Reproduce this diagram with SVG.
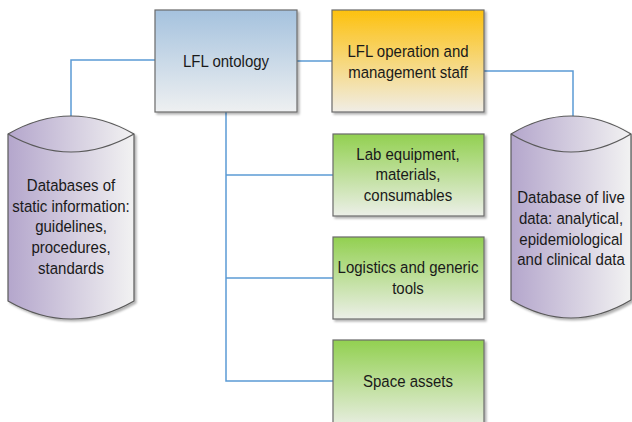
<svg xmlns="http://www.w3.org/2000/svg" width="632" height="422" viewBox="0 0 632 422">
<defs>
<linearGradient id="gBlue" x1="0" y1="0" x2="0" y2="1"><stop offset="0" stop-color="#a5c2de"/><stop offset="1" stop-color="#eef0f1"/></linearGradient>
<linearGradient id="gOrange" x1="0" y1="0" x2="0" y2="1"><stop offset="0" stop-color="#fdc10e"/><stop offset="1" stop-color="#f0ede6"/></linearGradient>
<linearGradient id="gGreen" x1="0" y1="0" x2="0" y2="1"><stop offset="0" stop-color="#92d050"/><stop offset="1" stop-color="#ecefe8"/></linearGradient>
<linearGradient id="gCyl" x1="0" y1="0" x2="1" y2="0"><stop offset="0" stop-color="#b4a6cc"/><stop offset="1" stop-color="#f2f2f2"/></linearGradient>
<filter id="sh" x="-10%" y="-10%" width="130%" height="130%"><feDropShadow dx="2" dy="2" stdDeviation="1" flood-color="#000" flood-opacity="0.3"/></filter>
</defs>
<style>
.box{stroke:#6b6b6b;stroke-width:1.2;filter:url(#sh)}
.cyl{fill:url(#gCyl);stroke:#5a5a5a;stroke-width:1.2;filter:url(#sh)}
.cin{fill:none;stroke:#5a5a5a;stroke-width:1.2}
.conn{fill:none;stroke:#5b9bd5;stroke-width:1.5}
text{font-family:"Liberation Sans",Arial,sans-serif;font-size:15px;fill:#1a1a1a;text-anchor:middle}
</style>
<g id="connectors">
<polyline class="conn" points="155,60 71,60 71,116"/>
<line class="conn" x1="297" y1="61" x2="332" y2="61"/>
<polyline class="conn" points="484,71 573,71 573,116"/>
<polyline class="conn" points="226,112 226,381 333,381"/>
<line class="conn" x1="226" y1="175" x2="333" y2="175"/>
<line class="conn" x1="226" y1="278" x2="333" y2="278"/>
</g>
<g id="ontology">
<rect class="box" x="155" y="10" width="142" height="102" fill="url(#gBlue)"/>
<g transform="translate(226,61) scale(1,1.16)"><text y="5.4">LFL ontology</text></g>
</g>
<g id="staff">
<rect class="box" x="332" y="10" width="152" height="102" fill="url(#gOrange)"/>
<g transform="translate(408,61) scale(1,1.16)"><text y="-3.6">LFL operation and</text><text y="14.3">management staff</text></g>
</g>
<g id="lab">
<rect class="box" x="333" y="134" width="151" height="82" fill="url(#gGreen)"/>
<g transform="translate(408,174) scale(1,1.16)"><text y="-12.5">Lab equipment,</text><text y="5.4">materials,</text><text y="23.3">consumables</text></g>
</g>
<g id="logistics">
<rect class="box" x="333" y="237" width="151" height="82" fill="url(#gGreen)"/>
<g transform="translate(408,277.5) scale(1,1.16)"><text y="-3.6">Logistics and generic</text><text y="14.3">tools</text></g>
</g>
<g id="space">
<rect class="box" x="333" y="340" width="151" height="90" fill="url(#gGreen)"/>
<g transform="translate(408,381) scale(1,1.16)"><text y="5.4">Space assets</text></g>
</g>
<g id="static-db">
<path class="cyl" d="M8,134 Q71,98 134,134 L134,301 Q71,337 8,301 Z"/>
<path class="cin" d="M8,134 Q71,170 134,134"/>
<g transform="translate(71,226) scale(1,1.16)"><text y="-30.4">Databases of</text><text y="-12.5">static information:</text><text y="5.4">guidelines,</text><text y="23.3">procedures,</text><text y="41.2">standards</text></g>
</g>
<g id="live-db">
<path class="cyl" d="M511,134 Q571,98 631,134 L631,300 Q571,336 511,300 Z"/>
<path class="cin" d="M511,134 Q571,170 631,134"/>
<g transform="translate(571,228) scale(1,1.16)"><text y="-21.5">Database of live</text><text y="-3.6">data: analytical,</text><text y="14.3">epidemiological</text><text y="32.2">and clinical data</text></g>
</g>
</svg>
